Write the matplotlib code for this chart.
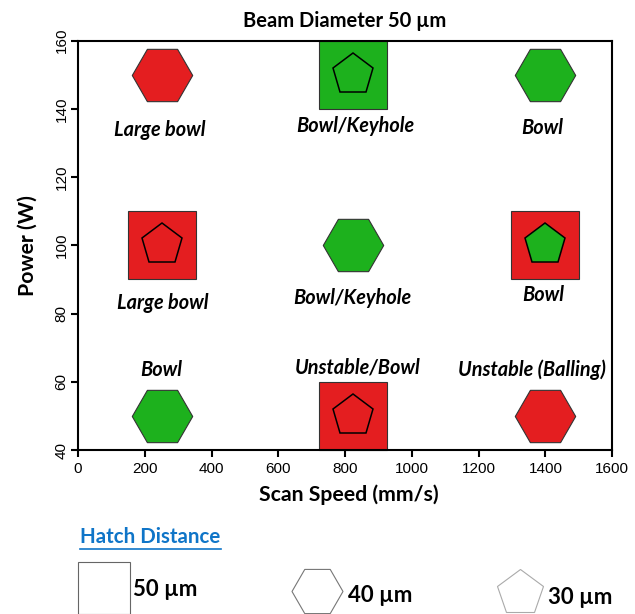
import matplotlib
matplotlib.use("Agg")
import matplotlib.pyplot as plt

RED = "#e41e20"
GREEN = "#1db11d"

# hatch 50 um -> square markers
sq_x = [825, 250, 1400, 825]
sq_y = [150, 100, 100, 50]
sq_c = [GREEN, RED, RED, RED]

# hatch 40 um -> hexagons
hex_x = [250, 1400, 825, 250, 1400]
hex_y = [150, 150, 100, 50, 50]
hex_c = [RED, GREEN, GREEN, GREEN, RED]

# hatch 30 um -> pentagons (inside the squares)
pen_x = [825, 250, 1400, 825]
pen_y = [150, 100, 100, 50]
pen_c = ["none", "none", GREEN, "none"]

# melt-pool labels
lab_text = ["Large bowl", "Bowl/Keyhole", "Bowl",
            "Large bowl", "Bowl/Keyhole", "Bowl",
            "Bowl", "Unstable/Bowl", "Unstable (Balling)"]
lab_x = [245, 829, 1392, 255, 820, 1395, 250, 838, 1360]
lab_y = [133.8, 135, 134.4, 83, 84.5, 85.4, 63.4, 64.3, 63.4]

xticks = [0, 200, 400, 600, 800, 1000, 1200, 1400, 1600]
yticks = [40, 60, 80, 100, 120, 140, 160]

legend_names = ["50 µm", "40 µm", "30 µm"]

LABEL_FONT = ["Lato", "DejaVu Sans"]
TICK_FONT = ["Liberation Sans", "DejaVu Sans"]

fig = plt.figure(figsize=(6.35, 6.14), dpi=100)
ax = fig.add_axes([0.123, 0.267, 0.841, 0.667])

for x, y, c in zip(sq_x, sq_y, sq_c):
    ax.plot(x, y, marker="s", ms=49, mfc=c, mec="#333333", mew=0.8,
            ls="none", clip_on=False, zorder=2)
for x, y, c in zip(hex_x, hex_y, hex_c):
    ax.plot(x, y, marker="H", ms=43.5, mfc=c, mec="#333333", mew=0.8,
            ls="none", clip_on=False, zorder=3)
for x, y, c in zip(pen_x, pen_y, pen_c):
    ax.plot(x, y, marker="p", ms=31, mfc=c, mec="black", mew=1.1,
            ls="none", clip_on=False, zorder=4)

for t, x, y in zip(lab_text, lab_x, lab_y):
    ax.text(x, y, t, ha="center", va="center", fontsize=14.3,
            fontweight="bold", style="italic", family=LABEL_FONT)

ax.set_xlim(0, 1600)
ax.set_ylim(40, 160)
ax.set_xticks(xticks)
ax.set_yticks(yticks)
ax.set_xticklabels([str(v) for v in xticks], family=TICK_FONT, fontsize=11)
ax.set_yticklabels([str(v) for v in yticks], family=TICK_FONT, fontsize=11,
                   rotation=90, va="center")
ax.tick_params(direction="out", length=5, width=1.5, color="black")
ax.tick_params(axis="y", pad=2)
for s in ax.spines.values():
    s.set_linewidth(1.5)

ax.set_xlabel("Scan Speed (mm/s)", fontsize=15.3, fontweight="bold",
              family=LABEL_FONT)
ax.xaxis.set_label_coords(0.507, -0.11)
ax.xaxis.label.set_va("center")
ax.set_ylabel("Power (W)", fontsize=15.3, fontweight="bold", family=LABEL_FONT)
ax.yaxis.set_label_coords(-0.095, 0.5)
ax.yaxis.label.set_va("center")

ax.set_title("Beam Diameter 50 µm", fontsize=14.5, fontweight="bold",
             family=LABEL_FONT, pad=10)

# legend key drawn in pixel space
lg = fig.add_axes([0, 0, 1, 1], zorder=-1)
lg.set_xlim(0, 635)
lg.set_ylim(614, 0)
lg.axis("off")
lg.text(80, 537, "Hatch Distance", ha="left", va="center", fontsize=14.8,
        fontweight="bold", color="#0f75c8", family=LABEL_FONT)
lg.plot([80, 221], [549, 549], color="#0f75c8", lw=1.2)
lg.plot(103.5, 587.5, marker="s", ms=38, mfc="white", mec="#666666",
        mew=0.8, ls="none", clip_on=False)
lg.plot(317, 591, marker="H", ms=36.7, mfc="white", mec="#777777",
        mew=0.8, ls="none", clip_on=False)
lg.plot(520, 593, marker="p", ms=34.6, mfc="white", mec="#aaaaaa",
        mew=0.8, ls="none", clip_on=False)
for t, x, y in zip(legend_names, [133, 348, 548], [590, 595, 597]):
    lg.text(x, y, t, ha="left", va="center", fontsize=16, fontweight="bold",
            family=LABEL_FONT)

fig.savefig("out.png", dpi=100)
